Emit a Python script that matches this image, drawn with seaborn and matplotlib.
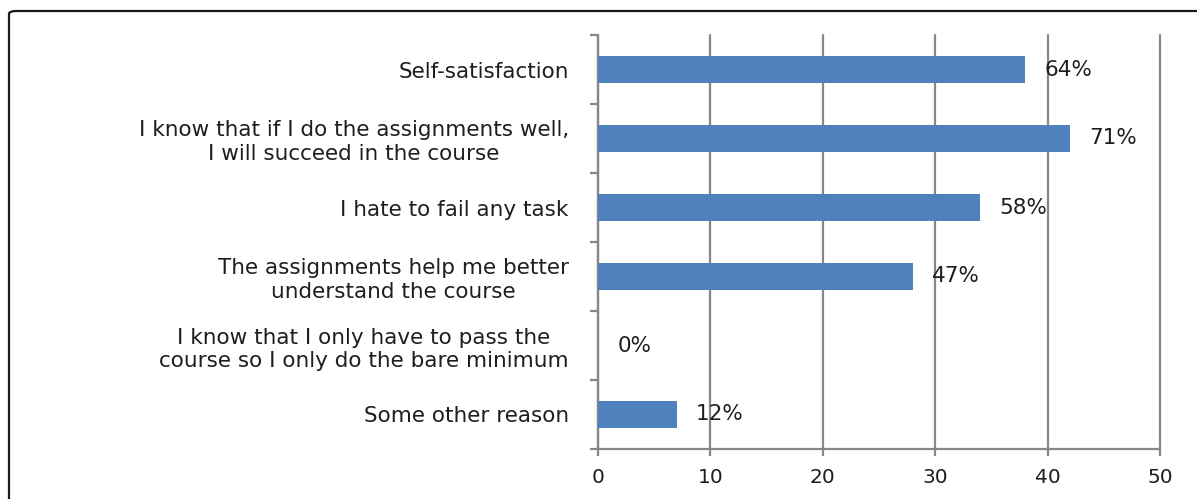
import matplotlib
matplotlib.use("Agg")
import matplotlib.pyplot as plt
import seaborn as sns
import pandas as pd
from matplotlib.patches import FancyBboxPatch

reasons = [
    "Self-satisfaction",
    "I know that if I do the assignments well,\nI will succeed in the course",
    "I hate to fail any task",
    "The assignments help me better\nunderstand the course",
    "I know that I only have to pass the\ncourse so I only do the bare minimum",
    "Some other reason",
]
counts = [38, 42, 34, 28, 0, 7]
pct_labels = ["64%", "71%", "58%", "47%", "0%", "12%"]

df = pd.DataFrame({"reason": reasons, "count": counts})

sns.set_style("white")
plt.rcParams["font.family"] = ["DejaVu Sans"]

fig = plt.figure(figsize=(11.97, 4.99), dpi=100)
ax = fig.add_axes([598 / 1197, 1 - 449 / 499, 562 / 1197, 414 / 499])

grid_c = "#878787"
text_c = "#1e1e1e"

sns.barplot(data=df, x="count", y="reason", color="#4f81bd", width=0.39,
            saturation=1, linewidth=0, ax=ax, zorder=3)

ax.set_xlim(0, 50)
ax.set_ylim(5.5, -0.5)
ax.set_xticks([0, 10, 20, 30, 40, 50])
ax.xaxis.grid(True, color=grid_c, linewidth=1.6, zorder=0)
ax.yaxis.grid(False)
for gl in ax.get_xgridlines():
    gl.set_clip_on(False)
ax.set_xlabel("")
ax.set_ylabel("")

for side in ["top", "right"]:
    ax.spines[side].set_visible(False)
for side in ["left", "bottom"]:
    ax.spines[side].set_color(grid_c)
    ax.spines[side].set_linewidth(1.6)

ax.tick_params(axis="x", length=5, width=1.6, color=grid_c, pad=9,
               labelsize=14.5, labelcolor=text_c, bottom=True)
ax.tick_params(axis="y", which="major", length=0, pad=21,
               labelsize=15.5, labelcolor=text_c)
ax.set_yticks([y - 0.5 for y in range(7)], minor=True)
ax.tick_params(axis="y", which="minor", length=6, width=1.6, color=grid_c, left=True)
for lab in ax.get_yticklabels():
    lab.set_horizontalalignment("right")
    lab.set_multialignment("center")
    lab.set_linespacing(1.2)

for i, (v, txt) in enumerate(zip(counts, pct_labels)):
    ax.annotate(txt, xy=(v, i), xytext=(14, 0), textcoords="offset points",
                ha="left", va="center", fontsize=15.5, color=text_c, zorder=4)

border = FancyBboxPatch((9 / 1197, -0.05), 1.1, 1 - 11 / 499 + 0.05,
                        boxstyle="round,pad=0,rounding_size=0.006",
                        transform=fig.transFigure, facecolor="none",
                        edgecolor="#1a1a1a", linewidth=1.6, zorder=0)
fig.patches.append(border)

fig.savefig("out.png", dpi=100)
